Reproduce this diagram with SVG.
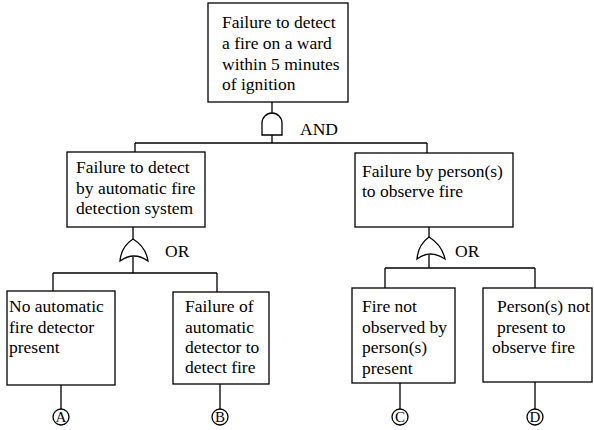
<svg xmlns="http://www.w3.org/2000/svg" width="594" height="430" viewBox="0 0 594 430">
<style>
.box{fill:#fff;stroke:#000;stroke-width:1.3}
.t{font-family:"Liberation Serif","Times New Roman",serif;font-size:17.5px;fill:#000}
.c{font-family:"Liberation Serif","Times New Roman",serif;font-size:15px;fill:#000;text-anchor:middle}
.ln{fill:none;stroke:#000;stroke-width:1.3}
.g{fill:#fff;stroke:#000;stroke-width:1.3}
</style>
<rect width="594" height="430" fill="#fff"/>
<g id="connectors">
<path class="ln" d="M272,102 V113 M272,135 V143 M135,143 H427 M135,143 V152 M427,143 V153"/>
<path class="ln" d="M133,227 V239 M133,257 V273 M53,273 H217 M53,273 V291 M217,273 V292"/>
<path class="ln" d="M429,227 V237 M429,255 V268 M385,268 H535 M385,268 V288 M535,268 V288"/>
<path class="ln" d="M61,385 V409 M220,384 V409 M400,383 V409 M535,382 V409"/>
</g>
<g id="gate-and">
<path class="g" d="M262,135 V123 A10,10 0 0 1 282,123 V135 Z"/>
<text class="t" x="300" y="135">AND</text>
</g>
<g id="gate-or-left">
<path class="g" d="M120,261 Q121,247 133,239 Q146,247 148,261 Q134,251 120,261 Z"/>
<text class="t" x="165" y="257">OR</text>
</g>
<g id="gate-or-right">
<path class="g" d="M417,259 Q418,245 429,237 Q442,245 445,259 Q430,249 417,259 Z"/>
<text class="t" x="455" y="257">OR</text>
</g>
<g id="top">
<rect class="box" x="208" y="3" width="140" height="99"/>
<text class="t" x="222" y="28">Failure to detect</text>
<text class="t" x="222" y="49">a fire on a ward</text>
<text class="t" x="222" y="70">within 5 minutes</text>
<text class="t" x="222" y="90">of ignition</text>
</g>
<g id="auto-detect">
<rect class="box" x="67" y="152" width="138" height="75"/>
<text class="t" x="76" y="173">Failure to detect</text>
<text class="t" x="76" y="194">by automatic fire</text>
<text class="t" x="76" y="214">detection system</text>
</g>
<g id="person-observe">
<rect class="box" x="355" y="153" width="158" height="74"/>
<text class="t" x="362" y="177">Failure by person(s)</text>
<text class="t" x="362" y="197">to observe fire</text>
</g>
<g id="box-a">
<rect class="box" x="7" y="291" width="108" height="94"/>
<text class="t" x="9" y="312">No automatic</text>
<text class="t" x="9" y="333">fire detector</text>
<text class="t" x="9" y="353">present</text>
</g>
<g id="box-b">
<rect class="box" x="173" y="292" width="96" height="92"/>
<text class="t" x="185" y="312">Failure of</text>
<text class="t" x="185" y="333">automatic</text>
<text class="t" x="185" y="353">detector to</text>
<text class="t" x="185" y="373">detect fire</text>
</g>
<g id="box-c">
<rect class="box" x="352" y="288" width="103" height="95"/>
<text class="t" x="362" y="312">Fire not</text>
<text class="t" x="362" y="333">observed by</text>
<text class="t" x="362" y="353">person(s)</text>
<text class="t" x="362" y="374">present</text>
</g>
<g id="box-d">
<rect class="box" x="483" y="288" width="109" height="94"/>
<text class="t" x="497" y="312">Person(s) not</text>
<text class="t" x="497" y="333">present to</text>
<text class="t" x="492" y="353">observe fire</text>
</g>
<g id="ref-a"><circle class="g" cx="61" cy="417" r="8"/><text class="c" x="61" y="422">A</text></g>
<g id="ref-b"><circle class="g" cx="220" cy="417" r="8"/><text class="c" x="220" y="422">B</text></g>
<g id="ref-c"><circle class="g" cx="400" cy="417" r="8"/><text class="c" x="400" y="422">C</text></g>
<g id="ref-d"><circle class="g" cx="535" cy="417" r="8"/><text class="c" x="535" y="422">D</text></g>
</svg>
